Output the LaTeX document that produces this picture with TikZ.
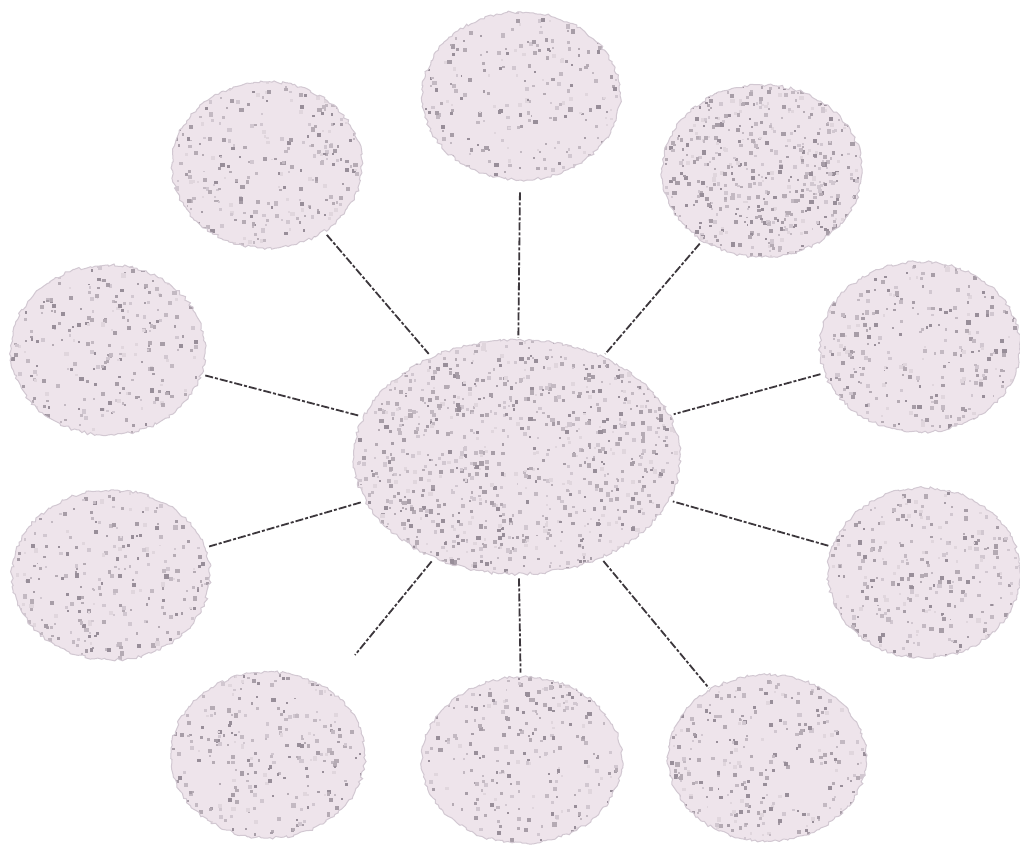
\documentclass[tikz,border=0pt]{standalone}
\usetikzlibrary{shapes.geometric,decorations.pathmorphing}
\definecolor{bubblefill}{RGB}{238,228,235}
\definecolor{bubbledots}{RGB}{95,85,98}
\definecolor{bubbleedge}{RGB}{210,200,210}
\definecolor{linkcol}{RGB}{60,55,60}
\tikzset{
  bubble/.style n args={3}{ellipse, inner sep=0pt,
    minimum width=2*#1 pt, minimum height=2*#2 pt,
    fill=bubblefill,
    draw=bubbleedge, line width=1pt,
    decorate, decoration={random steps, segment length=3pt, amplitude=1.5pt},
    path picture={
      \foreach \i in {1,...,#3}{
        \pgfmathtruncatemacro\pc{10*int(1+6*rnd)}
        \pgfmathsetmacro\rr{1.8+2.6*rnd}
        \fill[bubbledots!\pc!bubblefill]
          ([shift={({#1*rand},{#2*rand})}]path picture bounding box.center) rectangle ++(\rr pt,\rr pt);
      }}},
  link/.style={draw=linkcol, line width=1.8pt, dash pattern=on 8pt off 2pt on 3pt off 2pt}
}
\begin{document}
\begin{tikzpicture}[x=1pt,y=-1pt]
\pgfmathsetseed{12345}
\useasboundingbox (0,0) rectangle (1020,845);
\fill[white] (0,0) rectangle (1020,845);
% nodes
\node[bubble={163}{117}{1100}] (c) at (517,457) {};
\node[bubble={99}{84}{260}] (t) at (521,96) {};
\node[bubble={95}{83}{300}] (tl) at (267,165) {};
\node[bubble={100}{86}{600}] (tr) at (762,171) {};
\node[bubble={97}{85}{310}] (lu) at (108,350) {};
\node[bubble={100}{85}{330}] (ru) at (920,347) {};
\node[bubble={99}{85}{330}] (ll) at (111,575) {};
\node[bubble={96}{85}{330}] (rl) at (924,573) {};
\node[bubble={97}{83}{300}] (bl) at (268,755) {};
\node[bubble={100}{83}{310}] (b) at (522,760) {};
\node[bubble={99}{83}{330}] (br) at (767,758) {};
\coordinate (blend) at (355,655);
% connectors
\draw[link, shorten <=12pt, shorten >=2pt] (t) -- (c);
\draw[link, shorten <=4pt, shorten >=4pt] (tl) -- (c);
\draw[link, shorten <=4pt, shorten >=4pt] (tr) -- (c);
\draw[link, shorten <=4pt, shorten >=4pt] (lu) -- (c);
\draw[link, shorten <=4pt, shorten >=4pt] (ru) -- (c);
\draw[link, shorten <=4pt, shorten >=4pt] (ll) -- (c);
\draw[link, shorten <=4pt, shorten >=4pt] (rl) -- (c);
\draw[link, shorten <=4pt] (c) -- (blend);
\draw[link, shorten <=4pt, shorten >=4pt] (c) -- (b);
\draw[link, shorten <=4pt, shorten >=2pt] (c) -- (br);
\end{tikzpicture}
\end{document}
